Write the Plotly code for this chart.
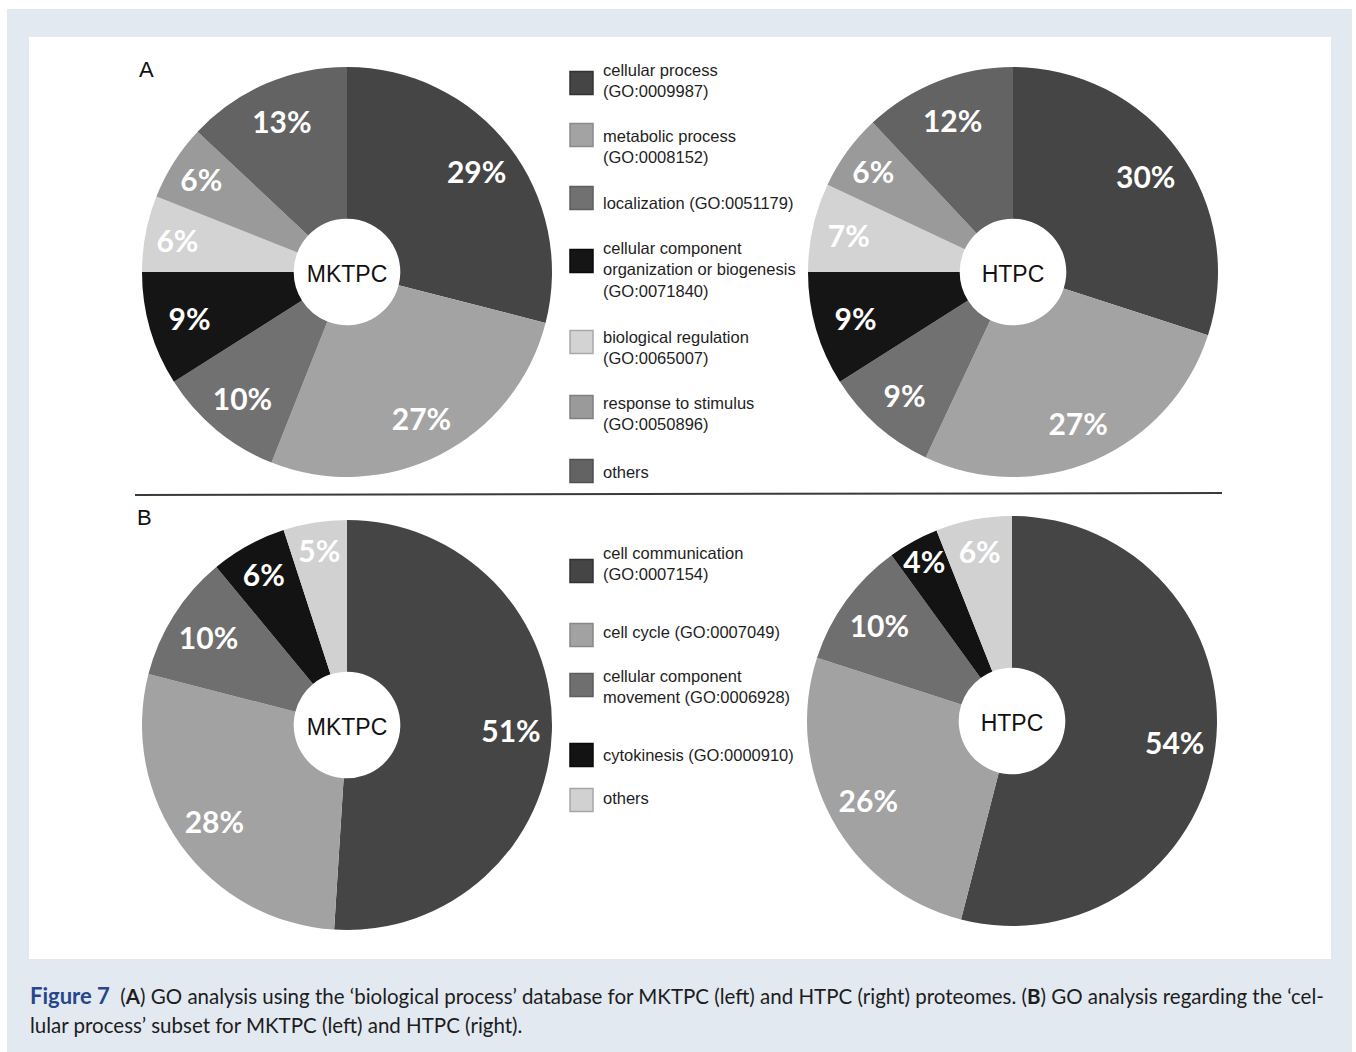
import plotly.graph_objects as go

# ---- data -------------------------------------------------------------
bio_categories = [
    "cellular process<br>(GO:0009987)",
    "metabolic process<br>(GO:0008152)",
    "localization (GO:0051179)",
    "cellular component<br>organization or biogenesis<br>(GO:0071840)",
    "biological regulation<br>(GO:0065007)",
    "response to stimulus<br>(GO:0050896)",
    "others",
]
bio_mktpc = [29, 27, 10, 9, 6, 6, 13]
bio_htpc = [30, 27, 9, 9, 7, 6, 12]

cell_categories = [
    "cell communication<br>(GO:0007154)",
    "cell cycle (GO:0007049)",
    "cellular component<br>movement (GO:0006928)",
    "cytokinesis (GO:0000910)",
    "others",
]
cell_mktpc = [51, 28, 10, 6, 5]
cell_htpc = [54, 26, 10, 4, 6]

caption_lines = [
    "<span style='color:#27468c;font-size:22px'><b>Figure 7</b></span>\u00a0\u00a0(<b>A</b>) GO analysis using the ‘biological process’ "
    "database for MKTPC (left) and HTPC (right) proteomes. (<b>B</b>) GO analysis regarding the ‘cel-",
    "lular process’ subset for MKTPC (left) and HTPC (right).",
]

# ---- styling ------------------------------------------------------------
bio_colors = ["#454545", "#a3a3a3", "#717171", "#151515", "#d3d3d3", "#9a9a9a", "#636363"]
cell_colors = ["#454545", "#a2a2a2", "#6f6f6f", "#131313", "#d1d1d1"]
box_edges_bio = ["#333333", "#8a8a8a", "#5e5e5e", "#0a0a0a", "#a8a8a8", "#808080", "#505050"]
box_edges_cell = ["#333333", "#888888", "#5c5c5c", "#0a0a0a", "#a6a6a6"]

W, H = 1356, 1052
RADIUS = 205
HOLE = 0.26

LABEL_FONT = "Liberation Sans, Arial, sans-serif"
PCT_FONT = "Lato, sans-serif"


def px(x):
    return x / W


def py(y):
    return 1 - y / H


def domain_at(cx, cy):
    return dict(x=[px(cx - RADIUS), px(cx + RADIUS)], y=[py(cy + RADIUS), py(cy - RADIUS)])


fig = go.Figure()


def add_donut(values, colors, name, cx, cy):
    dom = domain_at(cx, cy)
    # coloured ring with the sample name in the hole
    fig.add_trace(go.Pie(
        values=values, labels=list(range(len(values))), domain=dom,
        hole=HOLE, sort=False, direction="clockwise", rotation=0,
        marker=dict(colors=colors, line=dict(width=0)),
        textinfo="none", hoverinfo="skip", showlegend=False,
        title=dict(text=name, position="middle center",
                   font=dict(family=LABEL_FONT, size=23, color="#111111")),
    ))
    # transparent companion ring that carries the percentage labels
    fig.add_trace(go.Pie(
        values=values, labels=list(range(len(values))), domain=dom,
        hole=0.6, sort=False, direction="clockwise", rotation=0,
        marker=dict(colors=["rgba(0,0,0,0)"] * len(values), line=dict(width=0)),
        texttemplate="%{value}%", textposition="inside",
        insidetextorientation="horizontal",
        textfont=dict(family=PCT_FONT, size=30, color="white", weight="bold"),
        hoverinfo="skip", showlegend=False,
    ))


add_donut(bio_mktpc, bio_colors, "MKTPC", 347, 272)
add_donut(bio_htpc, bio_colors, "HTPC", 1013, 272)
add_donut(cell_mktpc, cell_colors, "MKTPC", 347, 725)
add_donut(cell_htpc, cell_colors, "HTPC", 1012, 721)

shapes = [
    # page backdrop and white figure panel
    dict(type="rect", xref="paper", yref="paper", x0=px(7), x1=px(1352), y0=py(1052), y1=py(9),
         fillcolor="#e3e9f0", line=dict(width=0), layer="below"),
    dict(type="rect", xref="paper", yref="paper", x0=px(29), x1=px(1331), y0=py(959), y1=py(37),
         fillcolor="white", line=dict(width=0), layer="below"),
    # divider between panels A and B
    dict(type="line", xref="paper", yref="paper", x0=px(135), x1=px(1222), y0=py(495), y1=py(493),
         line=dict(color="#3a3a3a", width=2)),
]
annotations = [
    dict(text="A", x=px(146), y=py(69), xref="paper", yref="paper", showarrow=False,
         xanchor="center", yanchor="middle",
         font=dict(family=LABEL_FONT, size=22, color="#111111")),
    dict(text="B", x=px(144), y=py(517), xref="paper", yref="paper", showarrow=False,
         xanchor="center", yanchor="middle",
         font=dict(family=LABEL_FONT, size=22, color="#111111")),
]

# ---- hand-built legends -------------------------------------------------
BOX = 23
LINE_H = 21.5
LEG_X = 570
TEXT_X = 601
bio_box_y = [83, 135, 198, 261, 342, 407, 471]
bio_text_y = [70, 136, 203, 248, 337, 403, 472]
cell_box_y = [571, 635, 685, 755, 800]
cell_text_y = [553, 632, 676, 755, 798]


def add_legend(categories, colors, edges, box_y, text_y):
    for cat, col, edge, by, ty in zip(categories, colors, edges, box_y, text_y):
        shapes.append(dict(type="rect", xref="paper", yref="paper",
                           x0=px(LEG_X), x1=px(LEG_X + BOX),
                           y0=py(by + BOX / 2), y1=py(by - BOX / 2),
                           fillcolor=col, line=dict(color=edge, width=1.5)))
        n_lines = cat.count("<br>") + 1
        annotations.append(dict(
            text=cat, x=px(TEXT_X), y=py(ty + (n_lines - 1) * LINE_H / 2),
            xref="paper", yref="paper", xanchor="left", yanchor="middle",
            align="left", showarrow=False,
            font=dict(family=LABEL_FONT, size=16.5, color="#1e1e1e"),
        ))


add_legend(bio_categories, bio_colors, box_edges_bio, bio_box_y, bio_text_y)
add_legend(cell_categories, cell_colors, box_edges_cell, cell_box_y, cell_text_y)

# ---- caption --------------------------------------------------------------
for line, y in zip(caption_lines, [995, 1025]):
    annotations.append(dict(
        text=line, x=px(28), y=py(y), xref="paper", yref="paper",
        xanchor="left", yanchor="middle", showarrow=False,
        font=dict(family="Lato, sans-serif", size=20.5, color="#1d1d1d"),
    ))

fig.update_layout(
    width=W, height=H,
    margin=dict(l=0, r=0, t=0, b=0),
    paper_bgcolor="white", plot_bgcolor="white",
    shapes=shapes, annotations=annotations,
    uniformtext=dict(minsize=30, mode="show"),
    showlegend=False,
)

fig.write_html("out.html")
